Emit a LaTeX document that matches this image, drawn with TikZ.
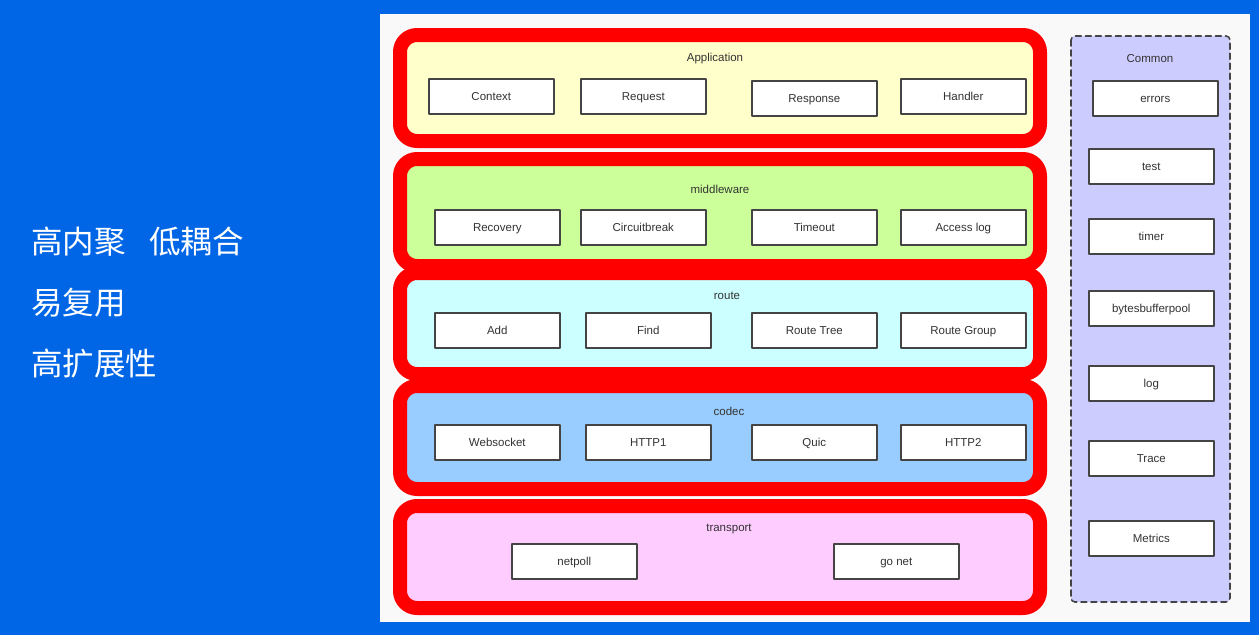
\documentclass[tikz,border=0pt]{standalone}
\usepackage{fontspec}
\setmainfont{Liberation Sans}
\newfontfamily\cjk{Noto Sans CJK SC}
\definecolor{bgblue}{RGB}{0,102,230}
\definecolor{panel}{RGB}{249,249,249}
\definecolor{frame}{RGB}{255,0,0}
\definecolor{appfill}{RGB}{255,255,204}
\definecolor{midfill}{RGB}{204,255,153}
\definecolor{routefill}{RGB}{204,255,255}
\definecolor{codecfill}{RGB}{153,204,255}
\definecolor{transfill}{RGB}{255,204,255}
\definecolor{commonfill}{RGB}{204,204,255}
\definecolor{boxgray}{RGB}{68,68,68}
\definecolor{txtgray}{RGB}{51,51,51}
\begin{document}
\begin{tikzpicture}[x=1pt,y=-1pt,font=\fontsize{11.5}{13}\selectfont,line join=round,line cap=round,
	item/.style={draw=boxgray,line width=1.6pt,fill=white,text=txtgray,minimum width=125pt,minimum height=35pt,inner sep=0pt,text height=1.6ex,text depth=0.2ex,anchor=north west},
	layertitle/.style={text=txtgray,inner sep=1pt},
	layerframe/.style={draw=frame,line width=14pt,rounded corners=17pt},
	cjkline/.style={text=white,anchor=west,inner sep=0pt,font=\cjk\fontsize{31.5}{34}\selectfont}]
	\useasboundingbox (0,0) rectangle (1259,635);
	\fill[bgblue] (0,0) rectangle (1259,635);
	\fill[panel] (380,14) rectangle (1250,622);
	
	% left column
	\node[cjkline] (t1) at (31,242) {高内聚\hspace{0.75em}低耦合};
	\node[cjkline] (t2) at (31,303) {易复用};
	\node[cjkline] (t3) at (31,364) {高扩展性};
	
	% common column
	\draw[draw=boxgray,line width=1.6pt,dash pattern=on 6pt off 4pt,fill=commonfill,rounded corners=4pt] (1071,36) rectangle (1230,602);
	\node[layertitle] (common) at (1150,59) {Common};
	\node[item] (errors) at (1092,80) {errors};
	\node[item] (test) at (1088,148) {test};
	\node[item] (timer) at (1088,218) {timer};
	\node[item] (pool) at (1088,290) {bytesbufferpool};
	\node[item] (log) at (1088,365) {log};
	\node[item] (trace) at (1088,440) {Trace};
	\node[item] (metrics) at (1088,520) {Metrics};
	
	% layers
	\foreach \fc/\ya/\yb in {appfill/35/141,midfill/159/266,routefill/273/374,codecfill/386/489,transfill/506/608}
	\fill[\fc,rounded corners=8pt] (407,\ya+7) rectangle (1033,\yb-7);
	\foreach \ya/\yb in {35/141,159/266,273/374,386/489,506/608}
	\draw[layerframe] (400,\ya) rectangle (1040,\yb);
	
	\node[layertitle] (app) at (715,59) {Application};
	\node[item] (context) at (428,78) {Context};
	\node[item] (request) at (580,78) {Request};
	\node[item] (response) at (751,80) {Response};
	\node[item] (handler) at (900,78) {Handler};
	
	\node[layertitle] (mid) at (720,189) {middleware};
	\node[item] (recovery) at (434,209) {Recovery};
	\node[item] (breaker) at (580,209) {Circuitbreak};
	\node[item] (timeout) at (751,209) {Timeout};
	\node[item] (access) at (900,209) {Access log};
	
	\node[layertitle] (route) at (727,296) {route};
	\node[item] (add) at (434,312) {Add};
	\node[item] (find) at (585,312) {Find};
	\node[item] (tree) at (751,312) {Route Tree};
	\node[item] (group) at (900,312) {Route Group};
	
	\node[layertitle] (codec) at (729,411) {codec};
	\node[item] (ws) at (434,424) {Websocket};
	\node[item] (http1) at (585,424) {HTTP1};
	\node[item] (quic) at (751,424) {Quic};
	\node[item] (http2) at (900,424) {HTTP2};
	
	\node[layertitle] (trans) at (729,529) {transport};
	\node[item] (netpoll) at (511,543) {netpoll};
	\node[item] (gonet) at (833,543) {go net};
\end{tikzpicture}
\end{document}
